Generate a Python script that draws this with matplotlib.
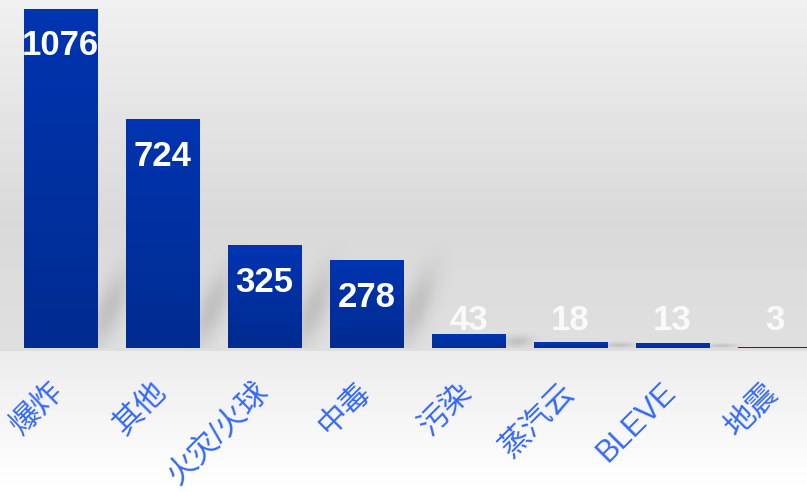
import numpy as np
import matplotlib.pyplot as plt
import matplotlib.transforms as mtransforms
from matplotlib.colors import LinearSegmentedColormap

categories = ['爆炸', '其他', '火灾/火球', '中毒', '污染', '蒸汽云', 'BLEVE', '地震']
values = [1076, 724, 325, 278, 43, 18, 13, 3]

plt.rcParams['font.family'] = ['Liberation Sans', 'Noto Sans CJK SC', 'DejaVu Sans']

W, H = 807, 492
fig = plt.figure(figsize=(W / 100, H / 100), dpi=100)

# background gradient (light top, grey middle, white bottom)
bg = fig.add_axes([0, 0, 1, 1])
ys = np.linspace(0, 1, H)
base = 348 / H
shade = np.interp(ys, [0, 0.45, base, base + 0.001, base + 0.006, base + 0.007, 1.0],
                  [0.94, 0.85, 0.875, 0.86, 0.875, 0.925, 1.0])
bg.imshow(np.repeat(shade[:, None], 2, axis=1), cmap='gray', vmin=0, vmax=1,
          aspect='auto', extent=[0, 1, 0, 1])
bg.axis('off')

ax = fig.add_axes([0, 144 / H, 1, 348 / H])
ax.patch.set_alpha(0)

x = np.arange(len(values))
w = 0.716
xmin, xmax, ytop = -0.593, 7.319, 1105

# soft shadows to the right of the bars
axw, axh = W, 348
XX, YY = np.meshgrid(np.arange(axw), np.arange(axh))
alpha = np.zeros((axh, axw))
for xi, v in zip(x, values):
    xr = (xi + w / 2 - xmin) / (xmax - xmin) * axw
    hp = min(v / ytop * axh, 85)
    if hp < 4:
        continue
    cy = hp * 0.45
    alpha += 0.13 * np.exp(-((XX - xr - 12 - 0.35 * (YY - cy)) / 15) ** 2
                           - ((YY - cy) / (0.45 * hp)) ** 2)
alpha = np.clip(alpha, 0, 0.3)
shadow = np.zeros((axh, axw, 4))
shadow[..., 3] = alpha
ax.imshow(shadow, origin='lower', aspect='auto', extent=[0, 1, 0, 1],
          transform=ax.transAxes, zorder=1)

bar_cmap = LinearSegmentedColormap.from_list('blu', ['#002b90', '#0034b0'])
grad = np.linspace(0, 1, 100)[:, None]
for xi, v in zip(x, values):
    ax.imshow(grad, cmap=bar_cmap, origin='lower', aspect='auto',
              extent=[xi - w / 2, xi + w / 2, 0, v], zorder=2,
              vmin=-0.3 if v < 50 else 0)
    # label inside bar top, or above small bars
    y = max(v - 147, 57)
    ax.text(xi, y, str(v), ha='center', va='baseline', color='white',
            alpha=1 if v > 200 else 0.85,
            fontsize=25, fontweight='bold', zorder=3)

ax.set_xlim(xmin, xmax)
ax.set_ylim(0, ytop)
ax.set_yticks([])
ax.set_xticks(x, categories, rotation=45, ha='right', va='top',
              color='#3468f8', fontsize=22)
ax.tick_params(axis='x', length=0, pad=21)
offset = mtransforms.ScaledTranslation(10 / 100, 0, fig.dpi_scale_trans)
for lab in ax.get_xticklabels():
    lab.set_transform(lab.get_transform() + offset)
for s in ax.spines.values():
    s.set_visible(False)

fig.savefig('out.png', dpi=100)
